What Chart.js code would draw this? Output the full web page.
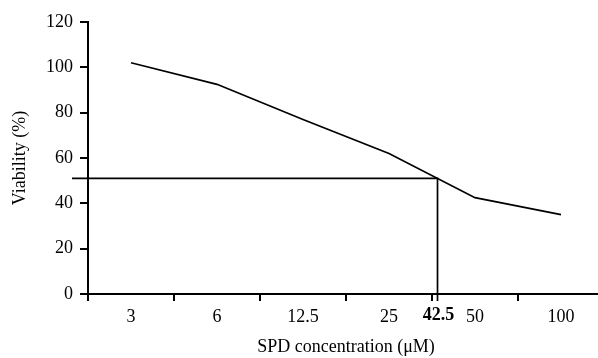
<!DOCTYPE html>
<html>
<head>
<meta charset="utf-8">
<script src="https://cdn.jsdelivr.net/npm/chart.js@4/dist/chart.umd.min.js"></script>
<style>
  html, body { margin: 0; padding: 0; background: #fff; overflow: hidden; }
  #wrap { width: 610px; height: 358px; }
</style>
</head>
<body>
<div id="wrap"><canvas id="chart" width="610" height="358"></canvas></div>
<script>
// SPD concentration (uM) and viability (%)
var concLabels = ['3', '6', '12.5', '25', '50', '100'];
var viability = [102, 92.5, 77, 62, 42.5, 35];
var yTicks = [0, 20, 40, 60, 80, 100, 120];
// IC50 style marker
var cutoff = 51;
var markLabel = '42.5';

Chart.defaults.font.family = 'Liberation Serif';
Chart.defaults.font.size = 18;
Chart.defaults.color = '#000';

var markerPlugin = {
  id: 'marker',
  afterDatasetsDraw: function (chart) {
    var xs = chart.scales.x, ys = chart.scales.y;
    var ctx = chart.ctx;
    var px = null;
    for (var i = 0; i < viability.length - 1; i++) {
      var a = viability[i], b = viability[i + 1];
      if ((a - cutoff) * (b - cutoff) <= 0) {
        var t = (a - cutoff) / (a - b);
        var p1 = xs.getPixelForValue(i), p2 = xs.getPixelForValue(i + 1);
        px = p1 + t * (p2 - p1);
        break;
      }
    }
    if (px === null) return;
    var py = ys.getPixelForValue(cutoff);
    ctx.save();
    ctx.strokeStyle = '#000';
    ctx.lineWidth = 1.7;
    ctx.beginPath();
    ctx.moveTo(chart.chartArea.left - 16, py);
    ctx.lineTo(px, py);
    ctx.lineTo(px, chart.chartArea.bottom + 7);
    ctx.stroke();
    ctx.fillStyle = '#000';
    ctx.font = 'bold 18px "Liberation Serif"';
    ctx.textAlign = 'center';
    ctx.textBaseline = 'middle';
    ctx.fillText(markLabel, px + 1, chart.chartArea.bottom + 21);
    ctx.restore();
  }
};

var chart = new Chart(document.getElementById('chart'), {
  type: 'line',
  data: {
    labels: concLabels,
    datasets: [{
      data: viability,
      borderColor: '#000',
      borderWidth: 1.7,
      pointRadius: 0,
      tension: 0,
      fill: false
    }]
  },
  options: {
    responsive: false,
    animation: false,
    layout: { padding: { top: 22, right: 6, left: 0, bottom: 0 } },
    plugins: { legend: { display: false }, tooltip: { enabled: false } },
    scales: {
      x: {
        offset: true,
        grid: { offset: true, drawOnChartArea: false, drawTicks: true, tickLength: 7, color: '#000', lineWidth: 2 },
        border: { color: '#000', width: 2 },
        ticks: { padding: 5, maxRotation: 0, autoSkip: false },
        title: { display: true, text: 'SPD concentration (μM)', padding: { top: 10, bottom: 0 } },
        afterFit: function (s) { s.height = 64; }
      },
      y: {
        min: 0,
        max: 120,
        afterBuildTicks: function (s) { s.ticks = yTicks.map(function (v) { return { value: v }; }); },
        grid: { drawOnChartArea: false, drawTicks: true, tickLength: 8, color: '#000', lineWidth: 2 },
        border: { color: '#000', width: 2 },
        ticks: { padding: 7 },
        title: { display: true, text: 'Viability (%)', padding: { top: 9, bottom: 5 } },
        afterFit: function (s) { s.width = 88; }
      }
    }
  },
  plugins: [markerPlugin]
});
</script>
</body>
</html>
